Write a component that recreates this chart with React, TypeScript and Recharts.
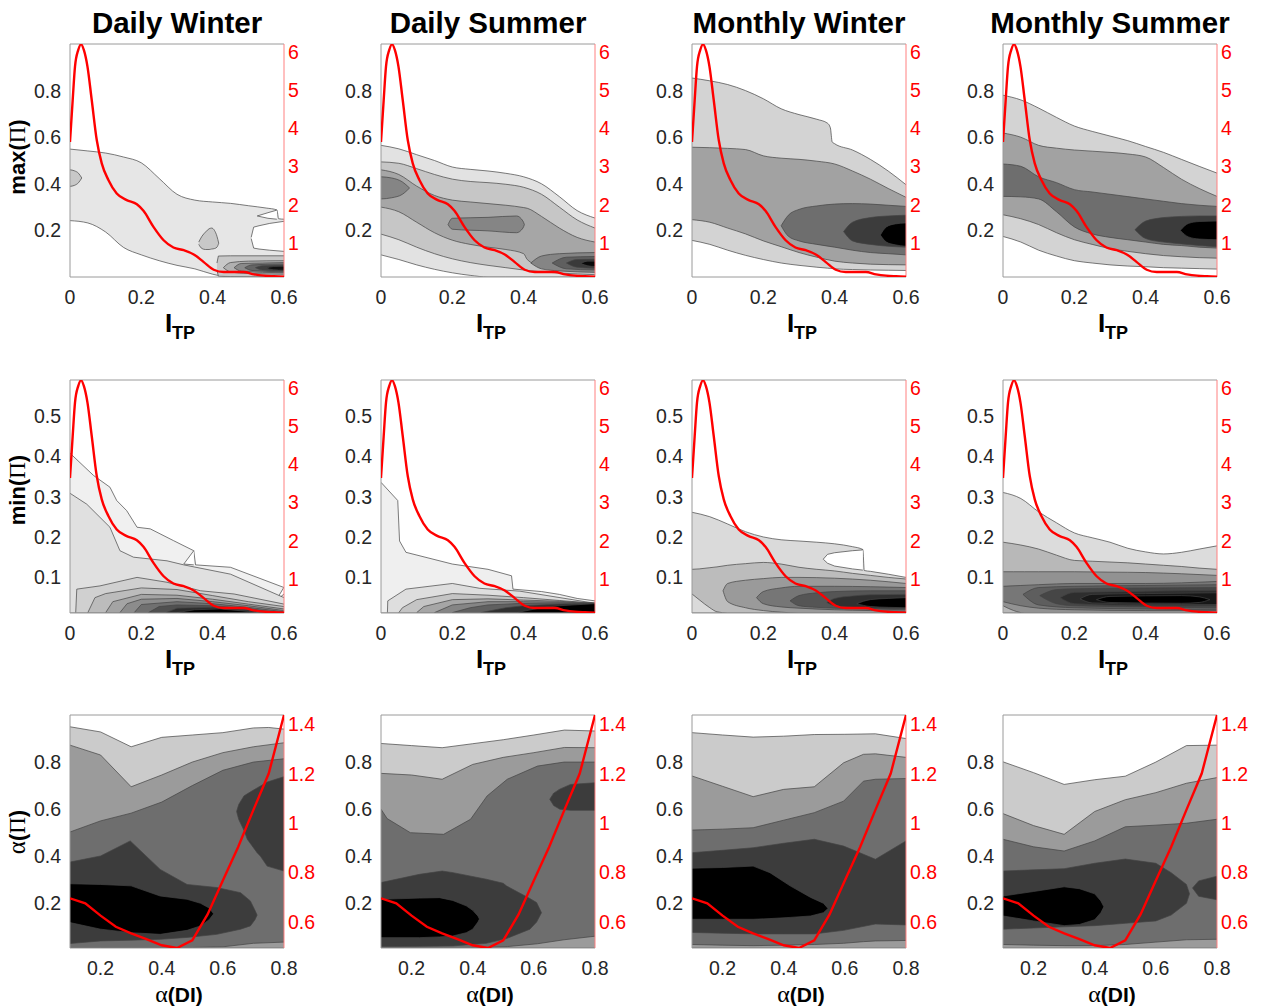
import React from "react";
import { ComposedChart, Area, Line, XAxis, YAxis, ReferenceLine } from "recharts";

type Band = [number, number, number][]; // x, lower edge, upper edge
type Curve = "monotone" | "linear";

const SANS = "'Liberation Sans', Arial, Helvetica, sans-serif";
const SERIF = "'Liberation Serif', 'Times New Roman', serif";
const FRAME = "#9a9a9a";
const EDGE = "#444444";
const RED = "#ff0000";
const WHITE = "#ffffff";
const TICK_FONT = 19.5;

// plot box geometry
const PW = 214;
const PH = 233;
const ML = 60;
const MR = 40;
const MT = 12;
const MB = 40;
const COLS = [70, 381, 692, 1003];
const ROWS = [44, 380, 715];

const seasons = ["Daily Winter", "Daily Summer", "Monthly Winter", "Monthly Summer"];

// axis ticks
const itpTicks = [0, 0.2, 0.4, 0.6];
const alphaDiTicks = [0.2, 0.4, 0.6, 0.8];
const maxTicks = [0.2, 0.4, 0.6, 0.8];
const minTicks = [0.1, 0.2, 0.3, 0.4, 0.5];
const alphaIiTicks = [0.2, 0.4, 0.6, 0.8];
const densItpTicks = [1, 2, 3, 4, 5, 6];
const densAlphaTicks = [0.6, 0.8, 1, 1.2, 1.4];

// density curves (right axis)
const densityItp: [number, number][] = [
  [0, 3.64], [0.0075, 4.73], [0.014, 5.61], [0.023, 6.04], [0.031, 6.19], [0.039, 6.04],
  [0.049, 5.61], [0.061, 4.73], [0.075, 3.69], [0.089, 3.08], [0.108, 2.64], [0.131, 2.29],
  [0.159, 2.12], [0.1875, 2.01], [0.206, 1.84], [0.234, 1.42], [0.2625, 1.07], [0.29, 0.88],
  [0.319, 0.81], [0.347, 0.7], [0.375, 0.5], [0.403, 0.3], [0.431, 0.24], [0.46, 0.24],
  [0.4875, 0.24], [0.516, 0.18], [0.544, 0.145], [0.572, 0.13], [0.6, 0.12],
];
const densityAlpha: [number, number][] = [
  [0.1, 0.695], [0.15, 0.675], [0.2, 0.625], [0.25, 0.58], [0.3, 0.553], [0.35, 0.53],
  [0.4, 0.505], [0.45, 0.494], [0.5, 0.525], [0.55, 0.63], [0.6, 0.767], [0.65, 0.903],
  [0.7, 1.053], [0.75, 1.2], [0.8, 1.437],
];

// ---- max(Π) vs I_TP ----
const dwMax1: Band = [
  [0, 0.242, 0.549], [0.05, 0.232, 0.541], [0.1, 0.193, 0.532], [0.15, 0.127, 0.515],
  [0.2, 0.095, 0.49], [0.25, 0.07, 0.423], [0.3, 0.05, 0.355], [0.35, 0.035, 0.33],
  [0.4, 0.012, 0.322], [0.45, 0, 0.316], [0.5, 0, 0.306], [0.55, 0, 0.296],
  [0.58, 0, 0.288], [0.585, 0, 0.25], [0.6, 0, 0.248],
];
const dwMaxNotch: Band = [[0.525, 0.262, 0.262], [0.555, 0.252, 0.276], [0.58, 0.248, 0.287]];
const dwMaxHole: Band = [[0.508, 0.165, 0.17], [0.515, 0.124, 0.214], [0.53, 0.12, 0.22], [0.56, 0.115, 0.23], [0.6, 0.11, 0.239]];
const dwMax2a: Band = [[0, 0.389, 0.46], [0.012, 0.393, 0.456], [0.024, 0.405, 0.445], [0.033, 0.425, 0.425]];
const dwMax2b: Band = [
  [0.361, 0.14, 0.15], [0.37, 0.122, 0.175], [0.38, 0.118, 0.193], [0.39, 0.118, 0.207],
  [0.397, 0.12, 0.21], [0.405, 0.122, 0.2], [0.412, 0.128, 0.175], [0.417, 0.145, 0.145],
];
const dwMax2c: Band = [[0.412, 0.03, 0.06], [0.416, 0.003, 0.09], [0.45, 0.002, 0.091], [0.6, 0, 0.091]];
const dwMax3: Band = [[0.43, 0.04, 0.04], [0.45, 0.022, 0.062], [0.5, 0.015, 0.068], [0.6, 0.012, 0.07]];
const dwMax4: Band = [[0.46, 0.04, 0.04], [0.48, 0.025, 0.058], [0.54, 0.02, 0.06], [0.6, 0.018, 0.062]];
const dwMax5: Band = [[0.49, 0.04, 0.04], [0.51, 0.028, 0.052], [0.6, 0.022, 0.056]];
const dwMax6: Band = [[0.52, 0.04, 0.04], [0.54, 0.03, 0.048], [0.6, 0.026, 0.05]];
const dwMax7: Band = [[0.55, 0.038, 0.038], [0.57, 0.031, 0.045], [0.6, 0.029, 0.046]];

const dsMax1: Band = [
  [0, 0.095, 0.565], [0.05, 0.075, 0.55], [0.1, 0.052, 0.525], [0.15, 0.033, 0.5],
  [0.2, 0.018, 0.472], [0.25, 0.007, 0.462], [0.3, 0, 0.455], [0.35, 0, 0.445],
  [0.4, 0, 0.43], [0.45, 0, 0.4], [0.5, 0, 0.345], [0.55, 0, 0.285], [0.6, 0, 0.253],
];
const dsMax2: Band = [
  [0, 0.184, 0.494], [0.05, 0.16, 0.488], [0.1, 0.128, 0.465], [0.15, 0.1, 0.44],
  [0.2, 0.078, 0.42], [0.25, 0.062, 0.41], [0.3, 0.05, 0.405], [0.35, 0.04, 0.398],
  [0.4, 0.03, 0.385], [0.45, 0.022, 0.355], [0.5, 0.017, 0.3], [0.55, 0.013, 0.245], [0.6, 0.01, 0.21],
];
const dsMax3: Band = [
  [0, 0.3, 0.46], [0.05, 0.28, 0.44], [0.1, 0.235, 0.39], [0.15, 0.19, 0.35],
  [0.2, 0.158, 0.33], [0.25, 0.14, 0.322], [0.3, 0.128, 0.315], [0.35, 0.118, 0.308],
  [0.4, 0.1, 0.298], [0.41, 0.075, 0.295], [0.45, 0.045, 0.26], [0.5, 0.033, 0.21],
  [0.55, 0.027, 0.17], [0.6, 0.022, 0.15],
];
const dsMax4a: Band = [[0, 0.335, 0.43], [0.03, 0.34, 0.425], [0.06, 0.355, 0.408], [0.08, 0.382, 0.382]];
const dsMax4b: Band = [[0.188, 0.225, 0.225], [0.2, 0.205, 0.252], [0.3, 0.198, 0.256], [0.38, 0.19, 0.262], [0.398, 0.21, 0.24], [0.402, 0.225, 0.225]];
const dsMax4c: Band = [[0.42, 0.06, 0.06], [0.45, 0.035, 0.09], [0.5, 0.026, 0.1], [0.6, 0.02, 0.105]];
const dsMax5: Band = [[0.48, 0.06, 0.06], [0.52, 0.035, 0.085], [0.6, 0.03, 0.088]];
const dsMax6: Band = [[0.52, 0.06, 0.06], [0.55, 0.042, 0.075], [0.6, 0.038, 0.076]];
const dsMax7: Band = [[0.56, 0.058, 0.058], [0.58, 0.048, 0.068], [0.6, 0.045, 0.068]];

const mwMax1: Band = [
  [0, 0.157, 0.854], [0.05, 0.14, 0.842], [0.1, 0.115, 0.826], [0.15, 0.093, 0.8],
  [0.2, 0.075, 0.765], [0.25, 0.06, 0.722], [0.3, 0.05, 0.697], [0.35, 0.042, 0.677],
  [0.38, 0.038, 0.66], [0.388, 0.037, 0.64], [0.393, 0.037, 0.58], [0.4, 0.035, 0.572],
  [0.45, 0.032, 0.545], [0.5, 0.03, 0.505], [0.55, 0.029, 0.455], [0.6, 0.028, 0.396],
];
const mwMax2: Band = [
  [0, 0.246, 0.557], [0.05, 0.235, 0.555], [0.1, 0.21, 0.552], [0.15, 0.185, 0.547],
  [0.2, 0.155, 0.52], [0.25, 0.13, 0.51], [0.3, 0.105, 0.505], [0.35, 0.085, 0.497],
  [0.4, 0.068, 0.485], [0.45, 0.06, 0.455], [0.5, 0.055, 0.42], [0.55, 0.053, 0.38], [0.6, 0.052, 0.342],
];
const mwMax3: Band = [
  [0.25, 0.22, 0.22], [0.27, 0.175, 0.265], [0.3, 0.155, 0.29], [0.35, 0.14, 0.305],
  [0.4, 0.128, 0.313], [0.45, 0.115, 0.315], [0.5, 0.105, 0.313], [0.55, 0.1, 0.308], [0.6, 0.095, 0.303],
];
const mwMax4: Band = [[0.425, 0.195, 0.195], [0.45, 0.155, 0.235], [0.5, 0.14, 0.255], [0.55, 0.132, 0.262], [0.6, 0.128, 0.265]];
const mwMax5: Band = [[0.528, 0.18, 0.18], [0.545, 0.15, 0.215], [0.57, 0.138, 0.228], [0.6, 0.132, 0.232]];

const msMax1: Band = [
  [0, 0.174, 0.78], [0.05, 0.15, 0.76], [0.1, 0.115, 0.725], [0.15, 0.09, 0.685],
  [0.2, 0.07, 0.648], [0.25, 0.06, 0.625], [0.3, 0.052, 0.605], [0.35, 0.047, 0.585],
  [0.4, 0.044, 0.56], [0.45, 0.04, 0.535], [0.5, 0.038, 0.505], [0.55, 0.036, 0.475], [0.6, 0.034, 0.446],
];
const msMax2: Band = [
  [0, 0.267, 0.618], [0.05, 0.25, 0.6], [0.1, 0.225, 0.565], [0.15, 0.19, 0.553],
  [0.2, 0.16, 0.545], [0.25, 0.14, 0.54], [0.3, 0.122, 0.535], [0.35, 0.11, 0.528],
  [0.4, 0.1, 0.515], [0.45, 0.092, 0.47], [0.5, 0.087, 0.42], [0.55, 0.083, 0.38], [0.6, 0.081, 0.346],
];
const msMax3: Band = [
  [0, 0.346, 0.485], [0.05, 0.344, 0.475], [0.1, 0.335, 0.43], [0.15, 0.28, 0.405],
  [0.2, 0.215, 0.375], [0.25, 0.185, 0.365], [0.3, 0.17, 0.355], [0.35, 0.16, 0.345],
  [0.4, 0.15, 0.335], [0.45, 0.14, 0.325], [0.5, 0.135, 0.315], [0.55, 0.128, 0.308], [0.6, 0.124, 0.303],
];
const msMax4: Band = [[0.37, 0.203, 0.203], [0.4, 0.165, 0.24], [0.45, 0.15, 0.255], [0.5, 0.142, 0.26], [0.55, 0.135, 0.262], [0.6, 0.13, 0.262]];
const msMax5: Band = [[0.497, 0.2, 0.2], [0.52, 0.172, 0.23], [0.55, 0.163, 0.238], [0.6, 0.16, 0.24]];

// ---- min(Π) vs I_TP ----
const dwMin1: Band = [
  [0, 0.012, 0.407], [0.066, 0.012, 0.352], [0.112, 0.012, 0.323], [0.131, 0.012, 0.29],
  [0.159, 0.012, 0.265], [0.188, 0.012, 0.224], [0.225, 0.012, 0.22], [0.29, 0.012, 0.191],
  [0.347, 0.012, 0.166], [0.352, 0.012, 0.131], [0.45, 0.012, 0.125], [0.6, 0.012, 0.075],
];
const dwMinNotch1: Band = [[0.319, 0.133, 0.133], [0.347, 0.131, 0.166]];
const dwMinNotch2: Band = [[0.577, 0.042, 0.042], [0.6, 0.059, 0.076]];
const dwMin2: Band = [
  [0, 0.012, 0.308], [0.047, 0.012, 0.281], [0.112, 0.012, 0.224], [0.14, 0.012, 0.166],
  [0.178, 0.012, 0.15], [0.272, 0.012, 0.141], [0.319, 0.012, 0.131], [0.45, 0.012, 0.108], [0.6, 0.012, 0.05],
];
const dwMin3: Band = [
  [0.016, 0.012, 0.013], [0.019, 0.012, 0.071], [0.084, 0.012, 0.079], [0.188, 0.012, 0.1],
  [0.272, 0.012, 0.088], [0.366, 0.012, 0.067], [0.46, 0.012, 0.059], [0.6, 0.012, 0.034],
];
const dwMin4: Band = [[0.05, 0.012, 0.013], [0.07, 0.012, 0.05], [0.1, 0.012, 0.06], [0.2, 0.012, 0.074], [0.3, 0.012, 0.07], [0.4, 0.012, 0.055], [0.5, 0.012, 0.04], [0.6, 0.012, 0.028]];
const dwMin5: Band = [[0.1, 0.012, 0.013], [0.12, 0.012, 0.04], [0.2, 0.012, 0.058], [0.3, 0.012, 0.056], [0.4, 0.012, 0.046], [0.5, 0.012, 0.034], [0.6, 0.012, 0.022]];
const dwMin6: Band = [[0.14, 0.012, 0.013], [0.16, 0.012, 0.035], [0.2, 0.012, 0.046], [0.3, 0.012, 0.048], [0.4, 0.012, 0.04], [0.5, 0.012, 0.03], [0.6, 0.012, 0.018]];
const dwMin7: Band = [[0.18, 0.012, 0.013], [0.2, 0.012, 0.033], [0.3, 0.012, 0.04], [0.4, 0.012, 0.035], [0.5, 0.012, 0.026], [0.6, 0.012, 0.015]];
const dwMin8: Band = [[0.22, 0.012, 0.013], [0.25, 0.012, 0.028], [0.3, 0.012, 0.032], [0.4, 0.012, 0.03], [0.5, 0.012, 0.023], [0.58, 0.012, 0.013]];
const dwMin9: Band = [[0.27, 0.012, 0.013], [0.3, 0.012, 0.024], [0.4, 0.012, 0.026], [0.5, 0.012, 0.02], [0.55, 0.012, 0.013]];
const dwMin10: Band = [[0.3, 0.012, 0.013], [0.35, 0.012, 0.02], [0.42, 0.012, 0.022], [0.5, 0.012, 0.016], [0.53, 0.012, 0.013]];

const dsMin1: Band = [
  [0, 0.012, 0.335], [0.047, 0.012, 0.29], [0.052, 0.012, 0.19], [0.07, 0.012, 0.162],
  [0.2, 0.012, 0.133], [0.3, 0.012, 0.12], [0.366, 0.012, 0.104], [0.37, 0.012, 0.071],
  [0.45, 0.012, 0.065], [0.5, 0.012, 0.058], [0.55, 0.012, 0.048], [0.6, 0.012, 0.042],
];
const dsMin2: Band = [[0.018, 0.012, 0.013], [0.019, 0.012, 0.042], [0.07, 0.012, 0.071], [0.2, 0.012, 0.085], [0.277, 0.012, 0.073], [0.389, 0.012, 0.066], [0.6, 0.012, 0.036]];
const dsMin3: Band = [[0.05, 0.012, 0.013], [0.06, 0.012, 0.025], [0.1, 0.012, 0.045], [0.2, 0.012, 0.06], [0.3, 0.012, 0.056], [0.4, 0.012, 0.05], [0.5, 0.012, 0.043], [0.6, 0.012, 0.036]];
const dsMin4: Band = [[0.1, 0.012, 0.013], [0.12, 0.012, 0.028], [0.2, 0.012, 0.045], [0.3, 0.012, 0.047], [0.4, 0.012, 0.044], [0.5, 0.012, 0.041], [0.6, 0.012, 0.036]];
const dsMin5: Band = [[0.15, 0.012, 0.013], [0.2, 0.012, 0.032], [0.3, 0.012, 0.04], [0.4, 0.012, 0.04], [0.5, 0.012, 0.039], [0.6, 0.012, 0.036]];
const dsMin6: Band = [[0.2, 0.012, 0.013], [0.25, 0.012, 0.025], [0.3, 0.012, 0.032], [0.4, 0.012, 0.036], [0.5, 0.012, 0.037], [0.6, 0.012, 0.036]];
const dsMin7: Band = [[0.28, 0.012, 0.013], [0.35, 0.012, 0.025], [0.4, 0.012, 0.03], [0.5, 0.012, 0.034], [0.6, 0.012, 0.036]];
const dsMin8: Band = [[0.38, 0.012, 0.013], [0.45, 0.012, 0.025], [0.5, 0.012, 0.03], [0.6, 0.012, 0.035]];

const mwMin1: Band = [
  [0, 0.012, 0.261], [0.05, 0.012, 0.25], [0.1, 0.012, 0.232], [0.15, 0.012, 0.213],
  [0.2, 0.012, 0.2], [0.25, 0.012, 0.193], [0.3, 0.012, 0.19], [0.35, 0.012, 0.187],
  [0.4, 0.012, 0.183], [0.45, 0.012, 0.176], [0.479, 0.012, 0.169], [0.483, 0.012, 0.117],
  [0.5, 0.012, 0.115], [0.55, 0.012, 0.108], [0.6, 0.012, 0.1],
];
const mwMinNotch: Band = [[0.368, 0.145, 0.145], [0.38, 0.135, 0.157], [0.4, 0.128, 0.161], [0.45, 0.121, 0.166], [0.479, 0.118, 0.168]];
const mwMin2: Band = [
  [0, 0.059, 0.12], [0.02, 0.045, 0.121], [0.05, 0.025, 0.124], [0.07, 0.015, 0.126],
  [0.1, 0.012, 0.13], [0.15, 0.012, 0.134], [0.2, 0.012, 0.137], [0.25, 0.012, 0.133],
  [0.3, 0.012, 0.125], [0.35, 0.012, 0.12], [0.4, 0.012, 0.116], [0.45, 0.012, 0.11],
  [0.5, 0.012, 0.105], [0.55, 0.012, 0.1], [0.6, 0.012, 0.096],
];
const mwMin3: Band = [[0.087, 0.067, 0.067], [0.1, 0.04, 0.085], [0.15, 0.025, 0.093], [0.2, 0.018, 0.097], [0.25, 0.014, 0.1], [0.3, 0.012, 0.1], [0.4, 0.012, 0.098], [0.5, 0.012, 0.093], [0.6, 0.012, 0.085]];
const mwMin4: Band = [[0.181, 0.05, 0.05], [0.2, 0.035, 0.065], [0.25, 0.027, 0.074], [0.3, 0.024, 0.078], [0.4, 0.02, 0.078], [0.5, 0.018, 0.077], [0.6, 0.016, 0.075]];
const mwMin5: Band = [[0.275, 0.042, 0.042], [0.3, 0.03, 0.055], [0.35, 0.026, 0.062], [0.4, 0.024, 0.065], [0.5, 0.022, 0.067], [0.6, 0.02, 0.067]];
const mwMin6: Band = [[0.378, 0.038, 0.038], [0.4, 0.03, 0.048], [0.45, 0.026, 0.054], [0.5, 0.024, 0.057], [0.6, 0.023, 0.058]];
const mwMin7: Band = [[0.462, 0.035, 0.035], [0.5, 0.028, 0.045], [0.55, 0.026, 0.048], [0.6, 0.025, 0.05]];

const msMin1: Band = [
  [0, 0.012, 0.31], [0.05, 0.012, 0.295], [0.1, 0.012, 0.262], [0.15, 0.012, 0.235],
  [0.2, 0.012, 0.21], [0.25, 0.012, 0.198], [0.3, 0.012, 0.187], [0.35, 0.012, 0.172],
  [0.4, 0.012, 0.163], [0.45, 0.012, 0.158], [0.5, 0.012, 0.162], [0.55, 0.012, 0.17], [0.6, 0.012, 0.178],
];
const msMin2: Band = [
  [0, 0.012, 0.187], [0.05, 0.012, 0.18], [0.1, 0.012, 0.17], [0.15, 0.012, 0.155],
  [0.2, 0.012, 0.142], [0.25, 0.012, 0.14], [0.3, 0.012, 0.138], [0.35, 0.012, 0.136],
  [0.4, 0.012, 0.133], [0.45, 0.012, 0.13], [0.5, 0.012, 0.127], [0.55, 0.012, 0.123], [0.6, 0.012, 0.12],
];
const msMin3: Band = [[0, 0.03, 0.114], [0.03, 0.018, 0.114], [0.06, 0.012, 0.114], [0.1, 0.012, 0.114], [0.2, 0.012, 0.114], [0.3, 0.012, 0.113], [0.4, 0.012, 0.112], [0.5, 0.012, 0.109], [0.6, 0.012, 0.105]];
const msMin4: Band = [[0, 0.04, 0.078], [0.05, 0.03, 0.08], [0.1, 0.024, 0.082], [0.2, 0.02, 0.085], [0.4, 0.018, 0.085], [0.6, 0.018, 0.09]];
const msMin5: Band = [[0.056, 0.058, 0.058], [0.1, 0.032, 0.075], [0.2, 0.025, 0.078], [0.4, 0.022, 0.08], [0.6, 0.02, 0.082]];
const msMin6: Band = [[0.103, 0.055, 0.055], [0.15, 0.035, 0.07], [0.2, 0.03, 0.072], [0.4, 0.027, 0.074], [0.6, 0.025, 0.075]];
const msMin7: Band = [[0.16, 0.05, 0.05], [0.2, 0.035, 0.063], [0.4, 0.03, 0.066], [0.6, 0.03, 0.068]];
const msMin8: Band = [[0.216, 0.047, 0.047], [0.25, 0.037, 0.058], [0.4, 0.034, 0.06], [0.6, 0.033, 0.062]];
const msMin9: Band = [[0.262, 0.045, 0.045], [0.3, 0.038, 0.053], [0.5, 0.036, 0.055], [0.55, 0.038, 0.052], [0.58, 0.045, 0.045]];

// ---- α(Π) vs α(DI) ----
const dwA1: Band = [[0.1, 0.01, 0.95], [0.2, 0.01, 0.928], [0.3, 0.01, 0.865], [0.4, 0.01, 0.905], [0.5, 0.01, 0.915], [0.6, 0.01, 0.925], [0.7, 0.01, 0.945], [0.75, 0.01, 0.947], [0.8, 0.01, 0.94]];
const dwA2: Band = [[0.1, 0.01, 0.872], [0.2, 0.01, 0.83], [0.3, 0.01, 0.695], [0.4, 0.01, 0.745], [0.5, 0.01, 0.8], [0.6, 0.01, 0.84], [0.7, 0.01, 0.865], [0.8, 0.01, 0.882]];
const dwA3: Band = [[0.1, 0.012, 0.503], [0.2, 0.012, 0.55], [0.3, 0.012, 0.583], [0.4, 0.012, 0.63], [0.5, 0.012, 0.7], [0.6, 0.015, 0.765], [0.7, 0.03, 0.8], [0.8, 0.035, 0.814]];
const dwA4: Band = [
  [0.1, 0.029, 0.375], [0.2, 0.04, 0.401], [0.297, 0.043, 0.465], [0.395, 0.047, 0.344],
  [0.483, 0.055, 0.28], [0.58, 0.068, 0.267], [0.658, 0.09, 0.245], [0.69, 0.104, 0.21],
  [0.705, 0.13, 0.17], [0.712, 0.15, 0.15],
];
const dwA4b: Band = [[0.645, 0.59, 0.59], [0.652, 0.556, 0.62], [0.669, 0.51, 0.656], [0.68, 0.472, 0.665], [0.712, 0.415, 0.69], [0.723, 0.4, 0.698], [0.745, 0.358, 0.715], [0.8, 0.337, 0.738]];
const dwA5: Band = [[0.1, 0.118, 0.283], [0.2, 0.09, 0.28], [0.3, 0.075, 0.274], [0.395, 0.068, 0.231], [0.483, 0.085, 0.217], [0.527, 0.104, 0.2], [0.555, 0.13, 0.18], [0.57, 0.155, 0.155]];

const dsA1: Band = [[0.1, 0.01, 0.879], [0.2, 0.01, 0.87], [0.3, 0.01, 0.861], [0.4, 0.01, 0.878], [0.5, 0.01, 0.895], [0.6, 0.01, 0.915], [0.7, 0.01, 0.936], [0.8, 0.01, 0.932]];
const dsA2: Band = [[0.1, 0.01, 0.752], [0.2, 0.01, 0.745], [0.3, 0.01, 0.727], [0.4, 0.01, 0.79], [0.5, 0.01, 0.82], [0.6, 0.01, 0.84], [0.7, 0.01, 0.862], [0.8, 0.01, 0.861]];
const dsA3: Band = [[0.1, 0.012, 0.6], [0.12, 0.012, 0.56], [0.196, 0.012, 0.5], [0.305, 0.012, 0.493], [0.393, 0.012, 0.557], [0.447, 0.012, 0.656], [0.513, 0.016, 0.727], [0.612, 0.028, 0.783], [0.699, 0.045, 0.8], [0.8, 0.06, 0.8]];
const dsA4: Band = [[0.1, 0.016, 0.288], [0.226, 0.017, 0.323], [0.3, 0.018, 0.337], [0.336, 0.019, 0.33], [0.445, 0.03, 0.302], [0.5, 0.047, 0.285], [0.51, 0.05, 0.274], [0.587, 0.09, 0.22], [0.609, 0.12, 0.203], [0.625, 0.16, 0.16]];
const dsA4b: Band = [[0.652, 0.642, 0.642], [0.665, 0.615, 0.668], [0.685, 0.6, 0.685], [0.72, 0.595, 0.705], [0.8, 0.595, 0.712]];
const dsA5: Band = [[0.1, 0.054, 0.217], [0.226, 0.054, 0.222], [0.291, 0.057, 0.224], [0.335, 0.061, 0.212], [0.379, 0.075, 0.189], [0.4, 0.09, 0.17], [0.417, 0.12, 0.146], [0.422, 0.133, 0.133]];

const mwA1: Band = [[0.1, 0.01, 0.925], [0.2, 0.01, 0.915], [0.3, 0.01, 0.906], [0.4, 0.01, 0.91], [0.5, 0.01, 0.917], [0.6, 0.01, 0.918], [0.7, 0.01, 0.92], [0.8, 0.01, 0.9]];
const mwA2: Band = [[0.1, 0.01, 0.741], [0.2, 0.01, 0.697], [0.3, 0.01, 0.653], [0.4, 0.01, 0.684], [0.5, 0.01, 0.695], [0.596, 0.01, 0.797], [0.661, 0.01, 0.833], [0.7, 0.01, 0.835], [0.8, 0.01, 0.82]];
const mwA3: Band = [[0.1, 0.025, 0.511], [0.2, 0.022, 0.515], [0.3, 0.02, 0.521], [0.4, 0.022, 0.553], [0.5, 0.025, 0.585], [0.596, 0.03, 0.634], [0.661, 0.037, 0.719], [0.7, 0.04, 0.727], [0.8, 0.042, 0.73]];
const mwA4: Band = [[0.1, 0.076, 0.415], [0.2, 0.073, 0.425], [0.3, 0.07, 0.436], [0.4, 0.07, 0.455], [0.5, 0.07, 0.472], [0.596, 0.085, 0.443], [0.7, 0.112, 0.387], [0.8, 0.108, 0.465]];
const mwA5: Band = [[0.1, 0.132, 0.349], [0.2, 0.132, 0.352], [0.3, 0.132, 0.358], [0.355, 0.135, 0.33], [0.421, 0.14, 0.274], [0.488, 0.146, 0.225], [0.53, 0.16, 0.2], [0.545, 0.178, 0.178]];

const msA1: Band = [[0.1, 0.01, 0.801], [0.2, 0.01, 0.755], [0.3, 0.01, 0.705], [0.4, 0.01, 0.725], [0.5, 0.01, 0.74], [0.6, 0.01, 0.8], [0.7, 0.01, 0.87], [0.8, 0.01, 0.872]];
const msA2: Band = [[0.1, 0.01, 0.581], [0.2, 0.01, 0.53], [0.3, 0.01, 0.493], [0.4, 0.01, 0.59], [0.5, 0.01, 0.64], [0.6, 0.01, 0.67], [0.7, 0.01, 0.71], [0.8, 0.01, 0.734]];
const msA3: Band = [[0.1, 0.025, 0.472], [0.2, 0.022, 0.44], [0.3, 0.02, 0.422], [0.4, 0.02, 0.465], [0.5, 0.025, 0.525], [0.6, 0.035, 0.532], [0.7, 0.045, 0.54], [0.8, 0.047, 0.557]];
const msA4: Band = [[0.1, 0.09, 0.337], [0.2, 0.095, 0.342], [0.3, 0.1, 0.347], [0.4, 0.105, 0.37], [0.5, 0.115, 0.388], [0.6, 0.125, 0.37], [0.65, 0.15, 0.33], [0.7, 0.2, 0.28], [0.71, 0.24, 0.24]];
const msA4b: Band = [[0.72, 0.265, 0.265], [0.74, 0.23, 0.295], [0.8, 0.215, 0.315]];
const msA5: Band = [[0.1, 0.146, 0.231], [0.2, 0.125, 0.25], [0.3, 0.105, 0.27], [0.35, 0.11, 0.262], [0.4, 0.13, 0.24], [0.42, 0.16, 0.21], [0.43, 0.185, 0.185]];

type Layer = { band: Band; fill: string; curve?: Curve };
const L = (band: Band, fill: string, curve?: Curve): Layer => ({ band, fill, curve });

type RowSpec = {
  top: number;
  xDomain: [number, number];
  xTicks: number[];
  yDomain: [number, number];
  yTicks: number[];
  rDomain: [number, number];
  rTicks: number[];
  density: [number, number][];
  curve: Curve;
  densityCurve: Curve;
};

const maxRow: RowSpec = { top: ROWS[0], xDomain: [0, 0.6], xTicks: itpTicks, yDomain: [0, 1], yTicks: maxTicks, rDomain: [0.11, 6.2], rTicks: densItpTicks, density: densityItp, curve: "monotone", densityCurve: "monotone" };
const minRow: RowSpec = { top: ROWS[1], xDomain: [0, 0.6], xTicks: itpTicks, yDomain: [0.012, 0.588], yTicks: minTicks, rDomain: [0.11, 6.2], rTicks: densItpTicks, density: densityItp, curve: "monotone", densityCurve: "monotone" };
const alphaRow: RowSpec = { top: ROWS[2], xDomain: [0.1, 0.8], xTicks: alphaDiTicks, yDomain: [0.01, 1], yTicks: alphaIiTicks, rDomain: [0.494, 1.437], rTicks: densAlphaTicks, density: densityAlpha, curve: "linear", densityCurve: "linear" };

const A1 = "#cbcbcb", A2 = "#9b9b9b", A3 = "#6e6e6e", A4 = "#3c3c3c", A5 = "#000000";

const grid: { spec: RowSpec; layers: Layer[] }[][] = [
  [
    { spec: maxRow, layers: [L(dwMax1, "#e6e6e6"), L(dwMaxNotch, WHITE, "linear"), L(dwMaxHole, WHITE, "linear"), L(dwMax2a, "#c8c8c8"), L(dwMax2b, "#c8c8c8"), L(dwMax2c, "#c8c8c8", "linear"), L(dwMax3, "#b0b0b0"), L(dwMax4, "#8a8a8a"), L(dwMax5, "#646464"), L(dwMax6, "#3e3e3e"), L(dwMax7, "#111111")] },
    { spec: maxRow, layers: [L(dsMax1, "#e2e2e2"), L(dsMax2, "#c6c6c6"), L(dsMax3, "#a6a6a6"), L(dsMax4a, "#858585"), L(dsMax4b, "#858585"), L(dsMax4c, "#858585"), L(dsMax5, "#5f5f5f"), L(dsMax6, "#3a3a3a"), L(dsMax7, "#0a0a0a")] },
    { spec: maxRow, layers: [L(mwMax1, "#d3d3d3"), L(mwMax2, "#a2a2a2"), L(mwMax3, "#6e6e6e"), L(mwMax4, "#3c3c3c"), L(mwMax5, "#000000")] },
    { spec: maxRow, layers: [L(msMax1, "#d3d3d3"), L(msMax2, "#a2a2a2"), L(msMax3, "#6e6e6e"), L(msMax4, "#3c3c3c"), L(msMax5, "#000000")] },
  ],
  [
    { spec: { ...minRow, curve: "linear" }, layers: [L(dwMin1, "#f0f0f0"), L(dwMinNotch1, WHITE), L(dwMinNotch2, WHITE), L(dwMin2, "#e0e0e0"), L(dwMin3, "#d0d0d0"), L(dwMin4, "#bcbcbc"), L(dwMin5, "#a4a4a4"), L(dwMin6, "#8c8c8c"), L(dwMin7, "#707070"), L(dwMin8, "#505050"), L(dwMin9, "#2c2c2c"), L(dwMin10, "#000000")] },
    { spec: { ...minRow, curve: "linear" }, layers: [L(dsMin1, "#efefef"), L(dsMin2, "#dedede"), L(dsMin3, "#c4c4c4"), L(dsMin4, "#a6a6a6"), L(dsMin5, "#858585"), L(dsMin6, "#606060"), L(dsMin7, "#303030"), L(dsMin8, "#000000")] },
    { spec: minRow, layers: [L(mwMin1, "#dadada"), L(mwMinNotch, WHITE, "linear"), L(mwMin2, "#bcbcbc"), L(mwMin3, "#9a9a9a"), L(mwMin4, "#767676"), L(mwMin5, "#555555"), L(mwMin6, "#303030"), L(mwMin7, "#000000")] },
    { spec: minRow, layers: [L(msMin1, "#dcdcdc"), L(msMin2, "#b8b8b8"), L(msMin3, "#929292"), L(msMin4, "#777777"), L(msMin5, "#5e5e5e"), L(msMin6, "#464646"), L(msMin7, "#2e2e2e"), L(msMin8, "#171717"), L(msMin9, "#000000")] },
  ],
  [
    { spec: alphaRow, layers: [L(dwA1, A1), L(dwA2, A2), L(dwA3, A3), L(dwA4, A4), L(dwA4b, A4), L(dwA5, A5)] },
    { spec: alphaRow, layers: [L(dsA1, A1), L(dsA2, A2), L(dsA3, A3), L(dsA4, A4), L(dsA4b, A4), L(dsA5, A5)] },
    { spec: alphaRow, layers: [L(mwA1, A1), L(mwA2, A2), L(mwA3, A3), L(mwA4, A4), L(mwA5, A5)] },
    { spec: alphaRow, layers: [L(msA1, A1), L(msA2, A2), L(msA3, A3), L(msA4, A4), L(msA4b, A4), L(msA5, A5)] },
  ],
];

const toRows = (b: Band) => b.map(([x, lo, hi]) => ({ x, r: [lo, hi] }));

function makeTick(anchor: "start" | "middle" | "end", color: string, dx: number, dy: number) {
  return (p: any) => (
    <text x={p.x + dx} y={p.y + dy} textAnchor={anchor} fill={color} fontSize={TICK_FONT} fontFamily={SANS}>
      {String(p.payload.value)}
    </text>
  );
}
const bottomTick = makeTick("middle", "#262626", 0, 25);
const leftTick = makeTick("end", "#262626", -7, 7);
const rightTick = makeTick("start", RED, 2, 7);

function Panel({ left, spec, layers }: { left: number; spec: RowSpec; layers: Layer[] }) {
  const [x0, x1] = spec.xDomain;
  const [y0, y1] = spec.yDomain;
  return (
    <div style={{ position: "absolute", left: left - ML, top: spec.top - MT }}>
      <ComposedChart width={ML + PW + MR} height={MT + PH + MB} margin={{ top: MT, right: 0, bottom: 0, left: 0 }}>
        <XAxis type="number" dataKey="x" domain={spec.xDomain} ticks={spec.xTicks} interval={0} allowDataOverflow height={MB} tickSize={0} tickLine={false} axisLine={false} tick={bottomTick} />
        <YAxis yAxisId="l" type="number" domain={spec.yDomain} ticks={spec.yTicks} interval={0} allowDataOverflow width={ML} tickSize={0} tickLine={false} axisLine={false} tick={leftTick} />
        <YAxis yAxisId="r" orientation="right" type="number" domain={spec.rDomain} ticks={spec.rTicks} interval={0} allowDataOverflow width={MR} tickSize={0} tickLine={false} axisLine={false} tick={rightTick} />
        {layers.map((ly, i) => (
          <Area
            key={i}
            yAxisId="l"
            data={toRows(ly.band)}
            dataKey="r"
            type={ly.curve ?? spec.curve}
            fill={ly.fill}
            fillOpacity={1}
            stroke={EDGE}
            strokeWidth={0.7}
            dot={false}
            activeDot={false}
            isAnimationActive={false}
          />
        ))}
        <ReferenceLine yAxisId="l" y={y1} stroke={FRAME} />
        <ReferenceLine yAxisId="l" y={y0} stroke={FRAME} />
        <ReferenceLine yAxisId="l" x={x0} stroke={FRAME} />
        <ReferenceLine yAxisId="l" x={x1} stroke="#ff8080" />
        <Line
          yAxisId="r"
          data={spec.density.map(([x, v]) => ({ x, v }))}
          dataKey="v"
          type={spec.densityCurve}
          stroke={RED}
          strokeWidth={2.4}
          dot={false}
          activeDot={false}
          isAnimationActive={false}
        />
      </ComposedChart>
    </div>
  );
}

function Labels() {
  const yLabels = [
    { cy: 157, head: "max(", greek: false },
    { cy: 490, head: "min(", greek: false },
    { cy: 832, head: "α", greek: true },
  ];
  return (
    <svg width={1262} height={1008} style={{ position: "absolute", left: 0, top: 0, pointerEvents: "none" }}>
      {seasons.map((s, c) => (
        <text key={s} x={COLS[c] + PW / 2} y={33} textAnchor="middle" fontFamily={SANS} fontWeight="bold" fontSize={29.5} fill="#000">
          {s}
        </text>
      ))}
      {yLabels.map((l) => (
        <text key={l.cy} transform={`translate(25,${l.cy}) rotate(-90)`} textAnchor="middle" fontFamily={SANS} fontWeight="bold" fontSize={22} fill="#000">
          {l.greek ? (
            <>
              <tspan fontFamily={SERIF} fontWeight="normal" fontSize={25}>α</tspan>
              <tspan>(</tspan>
            </>
          ) : (
            <tspan>{l.head}</tspan>
          )}
          <tspan fontFamily={SERIF} fontWeight="normal" fontSize={23}>Π</tspan>
          <tspan>)</tspan>
        </text>
      ))}
      {[0, 1].map((r) =>
        COLS.map((cx) => (
          <text key={`${r}-${cx}`} x={cx + PW / 2 + 3} y={ROWS[r] + PH + 55} textAnchor="middle" fontFamily={SANS} fontWeight="bold" fill="#000">
            <tspan fontSize={26}>I</tspan>
            <tspan fontSize={18} dy={7}>TP</tspan>
          </text>
        ))
      )}
      {COLS.map((cx) => (
        <text key={`a-${cx}`} x={cx + PW / 2 + 2} y={ROWS[2] + PH + 54} textAnchor="middle" fontFamily={SANS} fontWeight="bold" fontSize={21} fill="#000">
          <tspan fontFamily={SERIF} fontWeight="normal" fontSize={24}>α</tspan>
          <tspan>(DI)</tspan>
        </text>
      ))}
    </svg>
  );
}

export default function App() {
  return (
    <div style={{ position: "relative", width: 1262, height: 1008, background: "#fff", overflow: "hidden" }}>
      <style>{"body{margin:0}"}</style>
      {grid.map((row, r) => row.map((p, c) => <Panel key={`${r}-${c}`} left={COLS[c]} spec={p.spec} layers={p.layers} />))}
      <Labels />
    </div>
  );
}
